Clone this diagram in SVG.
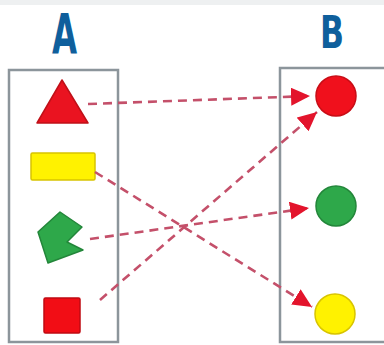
<svg xmlns="http://www.w3.org/2000/svg" width="384" height="345" viewBox="0 0 384 345">
<style>
.lbl{font-family:"DejaVu Sans","Liberation Sans",sans-serif;font-weight:bold;fill:#0f5f9c}
.box{fill:none;stroke:#8c959b;stroke-width:2.5}
.conn{fill:none;stroke:#c4506a;stroke-width:2.6;stroke-dasharray:9 6}
</style>
<defs>
<marker id="ah" markerUnits="userSpaceOnUse" markerWidth="20" markerHeight="20" refX="19" refY="9" orient="auto">
<path d="M0,0 L19,9 L0,18 z" fill="#e3142c"/>
</marker>
</defs>
<rect width="384" height="345" fill="#ffffff"/>
<rect width="384" height="5" fill="#eef0f1"/>
<g id="labelA"><text class="lbl" font-size="55" text-anchor="middle" transform="translate(64.5,53) scale(0.59,1)">A</text></g>
<g id="labelB"><text class="lbl" font-size="45" text-anchor="middle" transform="translate(332,48) scale(0.7,1)">B</text></g>
<g id="boxA"><rect class="box" x="9" y="70" width="109" height="272"/></g>
<g id="boxB"><rect class="box" x="280" y="68" width="120" height="274"/></g>
<g id="triangle"><polygon points="62,80 88,123 37,123" fill="#ea1320" stroke="#c01018" stroke-width="1.5" stroke-linejoin="round"/></g>
<g id="rectangle"><rect x="31" y="153" width="64" height="27" rx="1.5" fill="#fff200" stroke="#d8c400" stroke-width="1.5"/></g>
<g id="pentagon"><polygon points="60,212 82,227 67,242 83,250 48,263 38,232" fill="#2ea84a" stroke="#23863a" stroke-width="1.5" stroke-linejoin="round"/></g>
<g id="square"><rect x="44" y="298" width="36" height="35" rx="1.5" fill="#f20d15" stroke="#c00a12" stroke-width="1.5"/></g>
<g id="circleRed"><circle cx="336" cy="96" r="20" fill="#f0101c" stroke="#c80d16" stroke-width="1.5"/></g>
<g id="circleGreen"><circle cx="336" cy="206" r="20" fill="#2ea84a" stroke="#23863a" stroke-width="1.5"/></g>
<g id="circleYellow"><circle cx="335" cy="314" r="20" fill="#fff200" stroke="#d8c400" stroke-width="1.5"/></g>
<g id="connectors">
<line class="conn" x1="88" y1="104" x2="310" y2="96" marker-end="url(#ah)"/>
<line class="conn" x1="95" y1="172" x2="312" y2="307" marker-end="url(#ah)"/>
<line class="conn" x1="90" y1="239" x2="309" y2="208" marker-end="url(#ah)"/>
<line class="conn" x1="100" y1="300" x2="317" y2="112" marker-end="url(#ah)"/>
</g>
</svg>
